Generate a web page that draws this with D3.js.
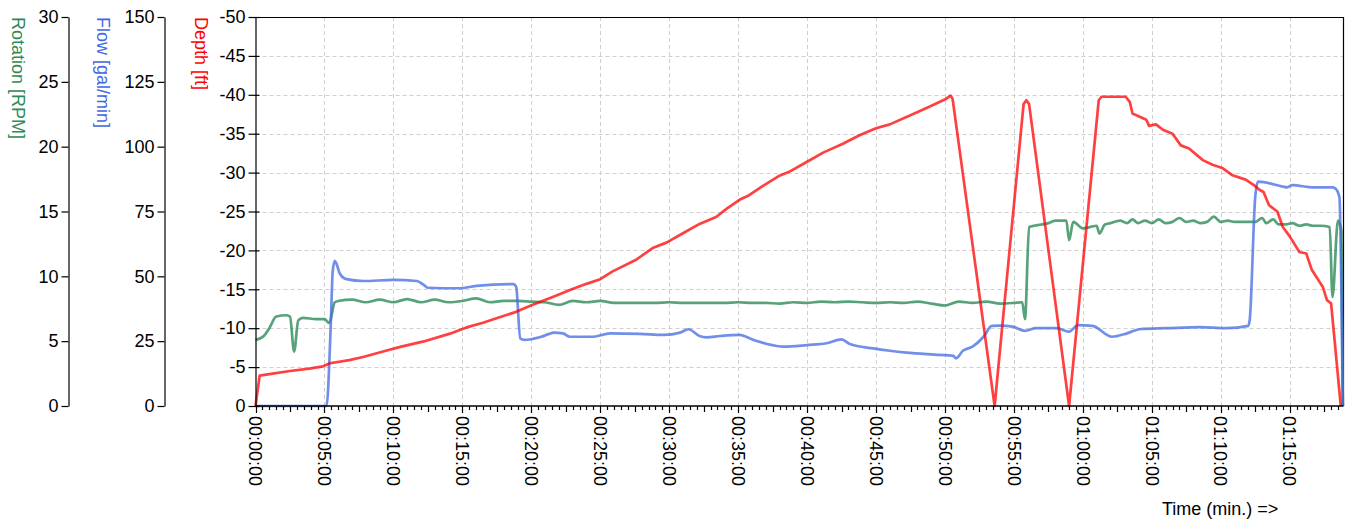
<!DOCTYPE html>
<html>
<head>
<meta charset="utf-8">
<script src="https://cdn.jsdelivr.net/npm/d3@7"></script>
<style>
  html, body { margin: 0; padding: 0; background: #fff; }
  svg { display: block; font-family: "Liberation Sans", Arial, sans-serif; }
</style>
</head>
<body>
<svg id="chart" width="1350" height="521"></svg>
<script>
// ---------- DATA (time in minutes) ----------
const depthData = [
  [0,0],[0.3,-3.9],[1,-4.1],[2.5,-4.5],[3.9,-4.8],[4.9,-5.1],[5.4,-5.5],[6.8,-5.9],[7.8,-6.3],
  [9.25,-7.0],[10.5,-7.6],[12.2,-8.3],[14.1,-9.3],[15.3,-10.1],[16.5,-10.7],[17.7,-11.4],
  [18.9,-12.1],[20.1,-13.0],[21.6,-14.05],[22.8,-14.9],[24.0,-15.7],[25.0,-16.3],[25.9,-17.3],
  [27.6,-18.8],[28.8,-20.3],[29.8,-21.0],[31.0,-22.2],[32.2,-23.4],[33.4,-24.3],[34.2,-25.4],
  [35.1,-26.5],[35.8,-27.1],[36.8,-28.3],[38.0,-29.6],[38.7,-30.1],[40.0,-31.4],[41.2,-32.6],
  [42.6,-33.7],[43.8,-34.8],[45.0,-35.7],[46.0,-36.2],[47.9,-37.7],[48.9,-38.5],[50.1,-39.5],
  [50.4,-39.9],[50.55,-39.5],[53.6,0],[55.7,-38.8],[55.9,-39.3],[56.1,-38.8],[59.0,0],
  [61.15,-39.3],[61.35,-39.75],[63.1,-39.75],
  [63.4,-39.1],[63.6,-37.6],[64.6,-36.8],[64.8,-36.0],[65.3,-36.2],[65.8,-35.5],[66.5,-35.0],
  [67.1,-33.5],[67.7,-33.1],[68.7,-31.6],[69.4,-31.0],[70.1,-30.6],[70.8,-29.7],[71.8,-29.1],
  [72.4,-28.4],[72.8,-27.8],[73.1,-27.5],[73.5,-25.8],[74.1,-25.0],[74.5,-23.0],[75.0,-21.8],
  [75.7,-19.8],[76.2,-19.6],[76.6,-17.5],[77.4,-15.3],[77.7,-13.6],[78.0,-13.2],[78.3,-7.6],[78.7,0]
];

const flowData = [
  [0,0],[5.15,0],[5.45,30],[5.6,52],[5.75,56.0],[5.9,54.5],[6.1,51.2],[6.6,48.9],[7.8,48.2],
  [10.0,48.6],[11.7,48.2],[12.15,46.9],[12.5,45.6],[14.8,45.4],[16.0,46.3],[18.7,47.0],[18.9,46.0],
  [19.2,26.1],[19.5,25.5],[20.6,26.5],[21.3,27.8],[21.6,28.3],[22.3,28.0],[22.8,26.7],[24.5,26.7],
  [25.7,28.0],[27.9,27.8],[29.6,27.4],[30.8,28.3],[31.4,29.6],[32.2,27.0],[32.7,26.5],[33.7,27.0],
  [35.1,27.4],[36.1,25.5],[37.1,23.9],[38.3,22.9],[40.0,23.5],[41.4,24.2],[42.5,25.7],[43.1,23.9],
  [44.8,22.2],[46.0,21.3],[47.2,20.6],[49.6,19.7],[50.6,19.3],[50.8,18.4],[51.3,21.3],[52.0,22.9],
  [52.8,26.7],[53.4,30.9],[54.0,31.0],[54.9,30.6],[55.8,29.0],[56.6,30.0],[58.1,30.0],[59.0,28.7],
  [59.65,31.2],[60.7,30.9],[62.1,26.7],[63.2,28.0],[64.1,29.6],[66.1,30.0],[68.5,30.4],[70.4,30.0],
  [72.0,30.9],[72.1,33.2],[72.5,80.7],[72.7,86.5],[74.5,84.6],[74.8,84.3],[75.2,85.2],[76.7,84.3],
  [78.1,84.3],[78.3,83.9],[78.6,80.7],[78.85,0]
];

const rotationData = [
  [0,5.1],[0.55,5.35],[1.0,6.0],[1.5,6.9],[2.25,7.0],[2.5,6.9],[2.8,4.2],[3.1,6.6],[3.45,6.8],
  [4.4,6.7],[5.0,6.7],[5.35,6.4],[5.75,8.0],[6,8.1],[7,8.2],[8,8.0],[9,8.2],[10,8.0],[11,8.25],
  [12,8.0],[13,8.2],[14,8.0],[15,8.1],[16,8.3],[17,8.0],[18,8.1],[19,8.1],[20,8.05],[21,8.0],
  [22,7.8],[23,8.1],[24,8.0],[25,8.1],[26,7.95],[27,7.95],[28,7.95],[29,7.95],[30,8.0],[31,7.95],
  [32,7.95],[33,7.95],[34,7.95],[35,8.0],[36,7.95],[37,7.95],[38,7.9],[39,8.0],[40,7.95],[41,8.05],
  [42,8.0],[43,8.05],[44,8.0],[45,7.95],[46,8.0],[47,7.95],[48,8.05],[49,7.9],[50,7.75],[51,8.05],
  [52,7.95],[53,8.05],[54,7.9],[55,7.95],[55.6,8.0],[55.8,6.7],[56.1,13.8],[57,14.0],[57.5,14.1],
  [58,14.3],[58.8,14.3],[59.0,12.8],[59.3,14.2],[60,13.7],[60.5,13.8],[61.0,13.9],[61.2,13.3],
  [61.6,14.0],[62,14.1],[62.7,14.3],[63.2,14.1],[63.6,14.4],[64,14.1],[64.5,14.3],[65,14.1],
  [65.5,14.4],[66,14.1],[66.5,14.2],[67,14.5],[67.5,14.2],[68,14.3],[68.5,14.1],[69,14.2],
  [69.5,14.6],[70,14.2],[70.5,14.3],[71,14.2],[71.5,14.2],[72,14.2],[72.5,14.2],[73,14.5],
  [73.3,14.1],[73.8,14.4],[74.2,14.0],[74.7,14.0],[75.2,14.1],[75.7,13.9],[76.2,14.0],[76.7,13.9],
  [77.2,13.9],[77.9,13.8],[78.1,8.4],[78.5,14.3],[78.75,13.5],[78.85,0]
];

const rotationTicks = [0,5,10,15,20,25,30];
const flowTicks = [0,25,50,75,100,125,150];
const depthTicks = [0,-5,-10,-15,-20,-25,-30,-35,-40,-45,-50];
const timeTicks = [0,5,10,15,20,25,30,35,40,45,50,55,60,65,70,75];

// ---------- LAYOUT ----------
const svg = d3.select("#chart");
const plot = { left: 255.5, right: 1343.5, top: 17, bottom: 406 };
const fontSize = 18;

const x = d3.scaleLinear().domain([0, 78.9]).range([plot.left, plot.right]);
const yDepth = d3.scaleLinear().domain([0, -50]).range([plot.bottom, plot.top]);
const yFlow = d3.scaleLinear().domain([0, 150]).range([plot.bottom, plot.top]);
const yRot = d3.scaleLinear().domain([0, 30]).range([plot.bottom, plot.top]);

// grid
const grid = svg.append("g").attr("stroke", "#cfcfcf").attr("stroke-dasharray", "4,3").attr("stroke-width", 1);
timeTicks.filter(t => t > 0).forEach(t => {
  grid.append("line").attr("x1", Math.round(x(t)) + 0.5).attr("x2", Math.round(x(t)) + 0.5)
    .attr("y1", plot.top).attr("y2", plot.bottom);
});
depthTicks.filter(d => d !== 0 && d !== -50).forEach(d => {
  grid.append("line").attr("x1", plot.left).attr("x2", plot.right)
    .attr("y1", Math.round(yDepth(d)) + 0.5).attr("y2", Math.round(yDepth(d)) + 0.5);
});

// top / right border
svg.append("path")
  .attr("d", `M${plot.left},${plot.top + 0.5}H${plot.right}V${plot.bottom}`)
  .attr("fill", "none").attr("stroke", "#000").attr("stroke-width", 1.2);

// lines
const line = (ys, curve) => d3.line().x(d => x(d[0])).y(d => ys(d[1])).curve(curve);
svg.append("path").datum(rotationData).attr("d", line(yRot, d3.curveMonotoneX))
  .attr("fill", "none").attr("stroke", "#2e8b57").attr("stroke-opacity", 0.8)
  .attr("stroke-width", 2.7).attr("stroke-linejoin", "round");
svg.append("path").datum(flowData).attr("d", line(yFlow, d3.curveMonotoneX))
  .attr("fill", "none").attr("stroke", "#4169e1").attr("stroke-opacity", 0.75)
  .attr("stroke-width", 2.7).attr("stroke-linejoin", "round");
svg.append("path").datum(depthData).attr("d", line(yDepth, d3.curveLinear))
  .attr("fill", "none").attr("stroke", "#ff0000").attr("stroke-opacity", 0.75)
  .attr("stroke-width", 2.7).attr("stroke-linejoin", "round");

// axes
function styleAxis(g) {
  g.selectAll("text").attr("font-size", fontSize).attr("fill", "#000")
    .attr("font-family", "'Liberation Sans', Arial, sans-serif");
  g.selectAll("path.domain").attr("stroke", "#000").attr("stroke-width", 1.2);
  g.selectAll(".tick line").attr("stroke", "#000").attr("stroke-width", 1.2);
}

const gRot = svg.append("g").attr("transform", "translate(68.5,0)")
  .call(d3.axisLeft(yRot).tickValues(rotationTicks).tickSize(7).tickSizeOuter(0).tickPadding(3));
styleAxis(gRot);
const gFlow = svg.append("g").attr("transform", "translate(164.5,0)")
  .call(d3.axisLeft(yFlow).tickValues(flowTicks).tickSize(7).tickSizeOuter(0).tickPadding(3));
styleAxis(gFlow);
const gDepth = svg.append("g").attr("transform", `translate(${plot.left},0)`)
  .call(d3.axisLeft(yDepth).tickValues(depthTicks).tickSize(7).tickSizeOuter(0).tickPadding(3)
    .tickFormat(d => d === 0 ? "0" : String(d)));
styleAxis(gDepth);
gDepth.selectAll(".tick line").attr("x2", 4).attr("x1", -7);

// x axis
const fmt = m => {
  const s = Math.round(m * 60);
  const hh = Math.floor(s / 3600), mm = Math.floor((s % 3600) / 60), ss = s % 60;
  return [hh, mm, ss].map(v => String(v).padStart(2, "0")).join(":");
};
const gx = svg.append("g").attr("transform", `translate(0,${plot.bottom})`);
gx.append("line").attr("x1", plot.left).attr("x2", plot.right).attr("stroke", "#000").attr("stroke-width", 1.6);
const minor = d3.range(0, 78.9, 0.5);
gx.selectAll("line.minor").data(minor).join("line").attr("class", "minor")
  .attr("x1", d => Math.round(x(d)) + 0.5).attr("x2", d => Math.round(x(d)) + 0.5)
  .attr("y1", 0).attr("y2", d => (d % 5 === 0) ? 7 : (d % 2.5 === 0 ? 6 : 4))
  .attr("stroke", "#000").attr("stroke-width", 1.2);
gx.selectAll("text.tl").data(timeTicks).join("text").attr("class", "tl")
  .attr("transform", d => `translate(${x(d)},10) rotate(90)`)
  .attr("dy", "0.35em").attr("text-anchor", "start")
  .attr("font-size", fontSize).attr("fill", "#000")
  .text(d => fmt(d));

svg.append("text").attr("x", 1162).attr("y", 515).attr("font-size", fontSize).attr("fill", "#000")
  .text("Time (min.) =>");

// axis titles
const title = (xPos, txt, col) => svg.append("text")
  .attr("transform", `translate(${xPos},17) rotate(90)`)
  .attr("text-anchor", "start").attr("font-size", fontSize).attr("fill", col).text(txt);
title(12, "Rotation [RPM]", "#2e8b57");
title(97, "Flow [gal/min]", "#4169e1");
title(195, "Depth [ft]", "#ff0000");
</script>
</body>
</html>
